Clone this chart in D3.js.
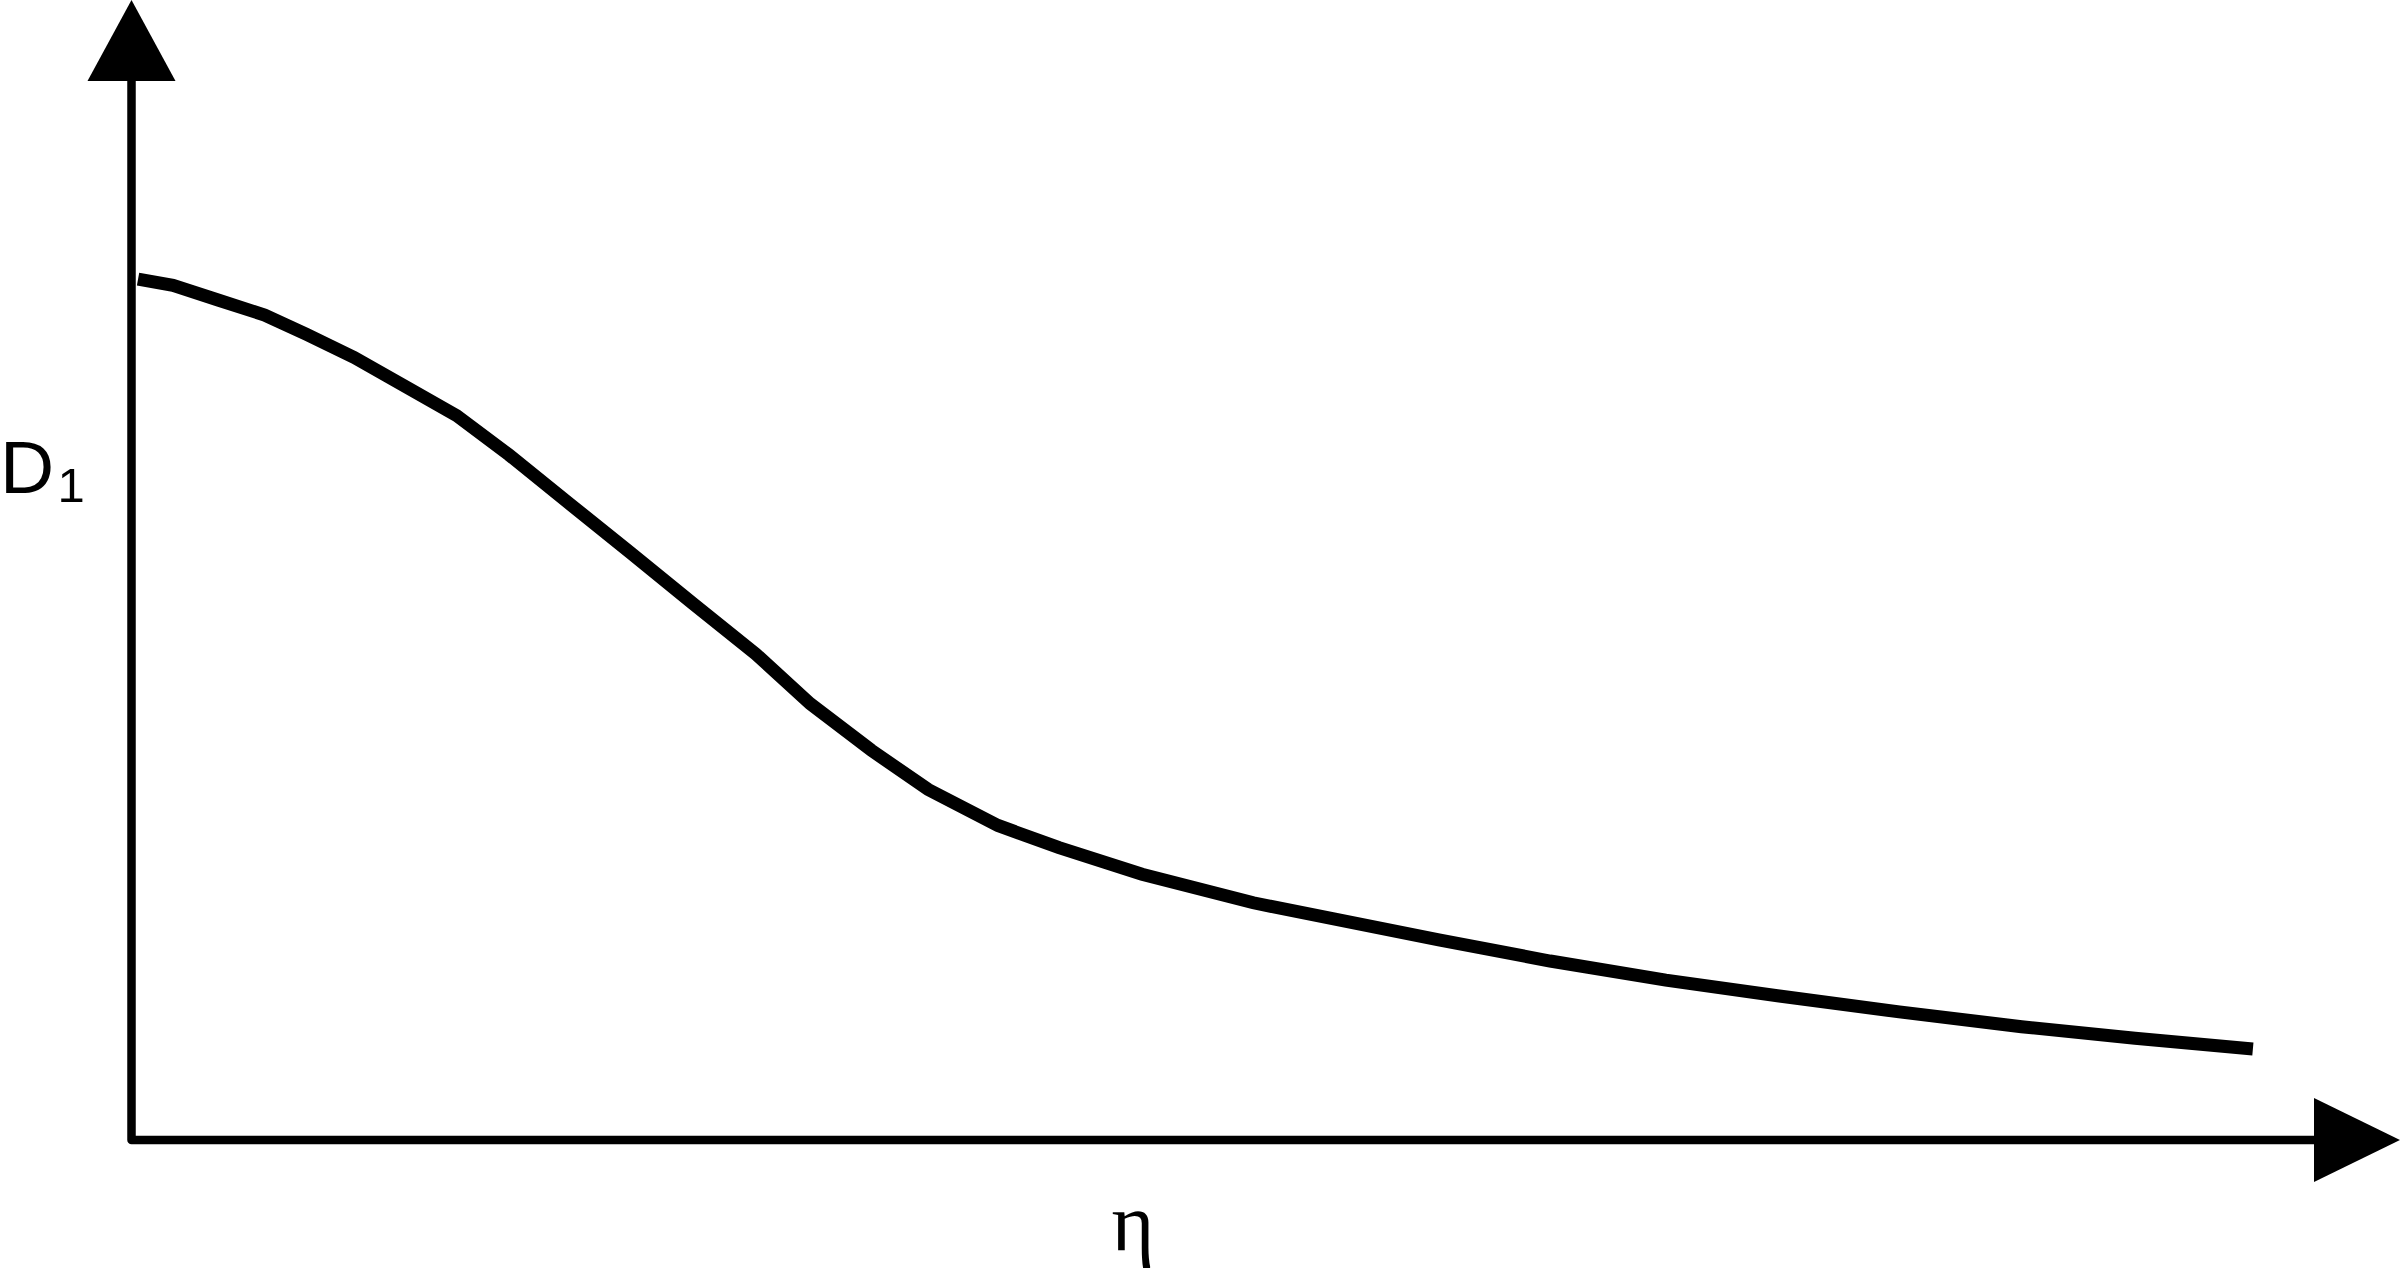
<!DOCTYPE html>
<html>
<head>
<meta charset="utf-8">
<script src="https://cdn.jsdelivr.net/npm/d3@7"></script>
<style>
  html, body { margin: 0; padding: 0; background: #fff; }
  svg { display: block; }
</style>
</head>
<body>
<script>
'use strict';

// eta along the horizontal axis, 0 = origin, 1 = start of arrow head
var eta = [0.003, 0.019, 0.040, 0.061, 0.080, 0.102, 0.126, 0.149, 0.173, 0.200,
           0.229, 0.257, 0.286, 0.311, 0.339, 0.365, 0.397, 0.425, 0.463, 0.514,
           0.599, 0.650, 0.703, 0.755, 0.810, 0.866, 0.918, 0.972];

// D1, same 0..1 units
var d1 = [0.813, 0.807, 0.793, 0.779, 0.761, 0.739, 0.711, 0.684, 0.647, 0.602,
          0.554, 0.507, 0.459, 0.412, 0.368, 0.331, 0.297, 0.276, 0.251, 0.224,
          0.189, 0.169, 0.151, 0.136, 0.121, 0.107, 0.096, 0.086];

var xLabel = 'η';
var yLabel = 'D';
var ySub = '1';

var width = 2400,
    height = 1268;

var x = d3.scaleLinear().domain([0, 1]).range([131.5, 2314]);
var y = d3.scaleLinear().domain([0, 1]).range([1140, 81]);

var svg = d3.select('body').append('svg')
    .attr('width', width)
    .attr('height', height);

svg.append('rect')
    .attr('width', width)
    .attr('height', height)
    .attr('fill', '#fff');

// axes: one path with a rounded corner at the origin
svg.append('path')
    .attr('d', d3.line()([[x(0), y(1)], [x(0), y(0)], [x(1), y(0)]]))
    .attr('fill', 'none')
    .attr('stroke', '#000')
    .attr('stroke-width', 8.5)
    .attr('stroke-linejoin', 'round');

// arrow heads
svg.append('polygon')
    .attr('points', [[x(0) - 44, y(1)], [x(0) + 44, y(1)], [x(0), 0]].join(' '))
    .attr('fill', '#000');

svg.append('polygon')
    .attr('points', [[x(1), y(0) - 42], [x(1), y(0) + 42], [width, y(0)]].join(' '))
    .attr('fill', '#000');

// the curve
var pts = eta.map(function(e, i) { return [e, d1[i]]; });

svg.append('path')
    .datum(pts)
    .attr('d', d3.line()
      .x(function(d) { return x(d[0]); })
      .y(function(d) { return y(d[1]); }))
    .attr('fill', 'none')
    .attr('stroke', '#000')
    .attr('stroke-width', 13)
    .attr('stroke-linejoin', 'miter');

// labels
var yl = svg.append('text')
    .attr('x', 0)
    .attr('y', 493)
    .attr('font-family', "'Liberation Sans', Arial, sans-serif")
    .attr('font-size', 75)
    .attr('fill', '#000');
yl.append('tspan').text(yLabel);
yl.append('tspan')
    .attr('x', 57.5)
    .attr('y', 502)
    .attr('font-size', 49)
    .text(ySub);

svg.append('text')
    .attr('x', 1133)
    .attr('y', 1250)
    .attr('text-anchor', 'middle')
    .attr('font-family', "'Liberation Serif', 'Times New Roman', serif")
    .attr('font-size', 82)
    .attr('fill', '#000')
    .text(xLabel);
</script>
</body>
</html>
